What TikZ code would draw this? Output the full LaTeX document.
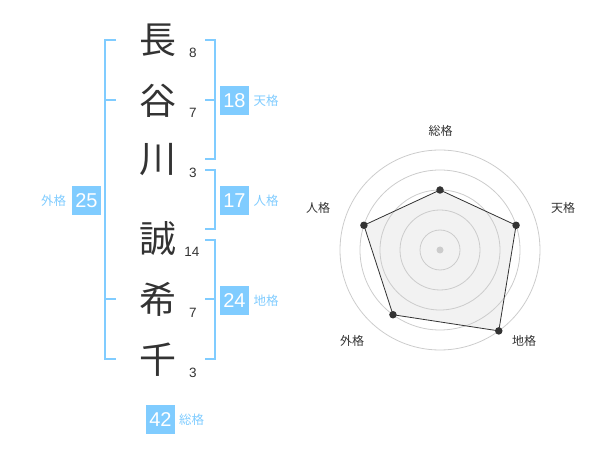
\documentclass[tikz,border=0pt]{standalone}
\usepackage{fontspec}
\setmainfont{Liberation Sans}
\newfontfamily\jpfont{Noto Sans CJK JP}
\definecolor{kakublue}{RGB}{128,204,255}
\definecolor{inkgray}{RGB}{51,51,51}
\definecolor{ringgray}{RGB}{204,204,204}
\definecolor{areagray}{RGB}{242,242,242}
\begin{document}
\begin{tikzpicture}[x=1pt,y=-1pt,
  kanji/.style={text=inkgray,font=\jpfont\fontsize{37}{37}\selectfont,inner sep=0pt},
  strokes/.style={text=inkgray,font=\fontsize{13.5}{14}\selectfont,inner sep=0pt},
  kaku/.style={fill=kakublue,text=white,minimum size=29pt,inner sep=0pt,font=\fontsize{20}{20}\selectfont},
  kakulabel/.style={text=kakublue,font=\jpfont\fontsize{12.5}{13}\selectfont,inner sep=0pt},
  axislabel/.style={text=inkgray,font=\jpfont\fontsize{12}{13}\selectfont,inner sep=0pt},
  bracket/.style={draw=kakublue,line width=2pt},
  dot/.style={circle,fill=inkgray,inner sep=0pt,minimum size=7.5pt}]
  \useasboundingbox (0,0) rectangle (600,470);

  %%%%%%%%%%%%%The name%%%%%%%%%%%%%%%%%%%%%%
  \node[kanji] (c1) at (158,40) {長};
  \node[kanji] (c2) at (158,101) {谷};
  \node[kanji] (c3) at (158,160) {川};
  \node[kanji] (c4) at (158,239) {誠};
  \node[kanji] (c5) at (158,299) {希};
  \node[kanji] (c6) at (158,360) {千};

  \node[strokes] (s1) at (193,53) {8};
  \node[strokes] (s2) at (193,113) {7};
  \node[strokes] (s3) at (193,173) {3};
  \node[strokes] (s4) at (192,252) {14};
  \node[strokes] (s5) at (193,313) {7};
  \node[strokes] (s6) at (193,373) {3};

  %%%%%%%%%%%%%The brackets%%%%%%%%%%%%%%%%%%%%%%
  \draw[bracket] (116,40) -- (105,40) -- (105,359) -- (116,359);
  \draw[bracket] (105,100) -- (116,100);
  \draw[bracket] (105,299) -- (116,299);

  \draw[bracket] (205,40) -- (215,40) -- (215,159) -- (205,159);
  \draw[bracket] (205,100) -- (215,100);
  \draw[bracket] (205,170) -- (215,170) -- (215,229) -- (205,229);
  \draw[bracket] (205,240) -- (215,240) -- (215,359) -- (205,359);
  \draw[bracket] (205,299) -- (215,299);

  %%%%%%%%%%%%%The sums%%%%%%%%%%%%%%%%%%%%%%
  \node[kaku] (ten) at (234.5,100.5) {18};
  \node[kakulabel] (tenl) at (266,100.5) {天格};
  \node[kaku] (jin) at (234.5,200.5) {17};
  \node[kakulabel] (jinl) at (266,200.5) {人格};
  \node[kaku] (chi) at (234.5,300.5) {24};
  \node[kakulabel] (chil) at (266,300.5) {地格};
  \node[kaku] (gai) at (86.5,200.5) {25};
  \node[kakulabel] (gail) at (53.5,200.5) {外格};
  \node[kaku] (sou) at (160.5,419.5) {42};
  \node[kakulabel] (soul) at (191.5,419.5) {総格};

  %%%%%%%%%%%%%The chart%%%%%%%%%%%%%%%%%%%%%%
  \begin{scope}[shift={(440,250)},yscale=-1]
    \coordinate (psou) at (90:60);
    \coordinate (pten) at (18:80);
    \coordinate (pchi) at (-54:100);
    \coordinate (pgai) at (234:80);
    \coordinate (pjin) at (162:80);
    \fill[areagray] (psou) -- (pten) -- (pchi) -- (pgai) -- (pjin) -- cycle;
    \foreach \r in {20,40,60,80,100}
      \draw[ringgray,line width=0.8pt] (0,0) circle (\r);
    \fill[ringgray] (0,0) circle (3.5);
    \draw[inkgray,line width=0.8pt]
      (psou) -- (pten) -- (pchi) -- (pgai) -- (pjin) -- cycle;
    \foreach \p in {psou,pten,pchi,pgai,pjin}
      \node[dot] at (\p) {};
  \end{scope}

  \node[axislabel] (asou) at (440.5,130.5) {総格};
  \node[axislabel] (aten) at (563,208) {天格};
  \node[axislabel] (achi) at (524,341) {地格};
  \node[axislabel] (agai) at (352,341) {外格};
  \node[axislabel] (ajin) at (318,208) {人格};
\end{tikzpicture}
\end{document}
